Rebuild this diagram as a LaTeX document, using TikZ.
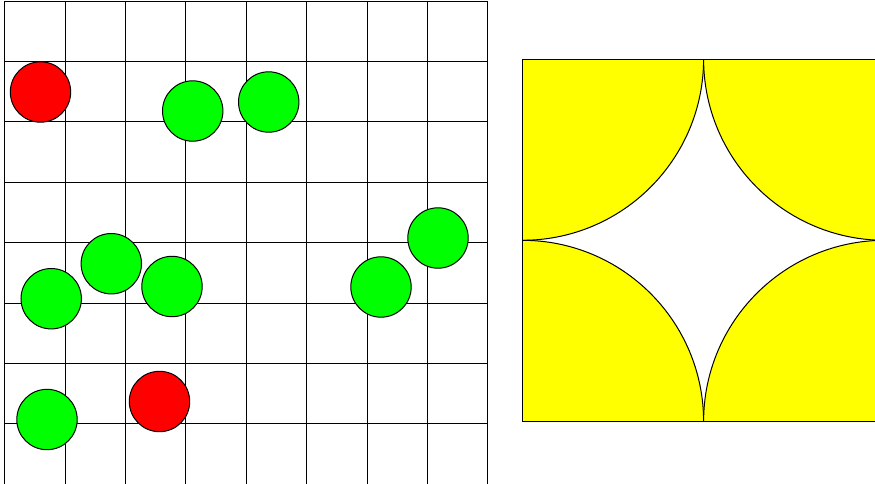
\documentclass[tikz,border=0pt]{standalone}
\definecolor{pureyellow}{RGB}{255,255,0}
\definecolor{purered}{RGB}{255,0,0}
\definecolor{puregreen}{RGB}{0,255,0}
\begin{document}
\begin{tikzpicture}[x=1pt,y=-1pt,
  gridline/.style={line width=1pt,draw=black},
  redball/.style={fill=purered,draw=black,line width=1pt},
  greenball/.style={fill=puregreen,draw=black,line width=1pt},
  petal/.style={fill=pureyellow,draw=black,line width=1pt}]
\useasboundingbox (0,0) rectangle (875,483);
\clip (0,0) rectangle (875,483);
% grid
\foreach \i in {0,...,8}{
  \draw[gridline] ({4.7+60.4*\i},1) -- ({4.7+60.4*\i},484.3);
  \draw[gridline] (4.7,{1+60.4*\i}) -- (487.9,{1+60.4*\i});
}
% balls
\path[redball] (40.5,92) circle[radius=30.2pt];
\path[redball] (159.5,401.5) circle[radius=30.2pt];
\path[greenball] (192.7,111) circle[radius=30.2pt];
\path[greenball] (268.7,102) circle[radius=30.2pt];
\path[greenball] (438,238) circle[radius=30.2pt];
\path[greenball] (381,287) circle[radius=30.2pt];
\path[greenball] (111.3,263.7) circle[radius=30.2pt];
\path[greenball] (51.2,298.7) circle[radius=30.2pt];
\path[greenball] (172,286.5) circle[radius=30.2pt];
\path[greenball] (47,419.5) circle[radius=30.2pt];
% yellow square with quarter discs
\coordinate (tl) at (522.3,59);
\coordinate (tr) at (884.9,59);
\coordinate (bl) at (522.3,421.6);
\coordinate (br) at (884.9,421.6);
\begin{scope}
  \clip (tl) rectangle (br);
  \fill[white] (tl) rectangle (br);
  \foreach \c in {tl,tr,bl,br}{
    \path[petal] (\c) circle[radius=181.3pt];
  }
\end{scope}
\draw[line width=1pt] (tl) rectangle (br);
\end{tikzpicture}
\end{document}
